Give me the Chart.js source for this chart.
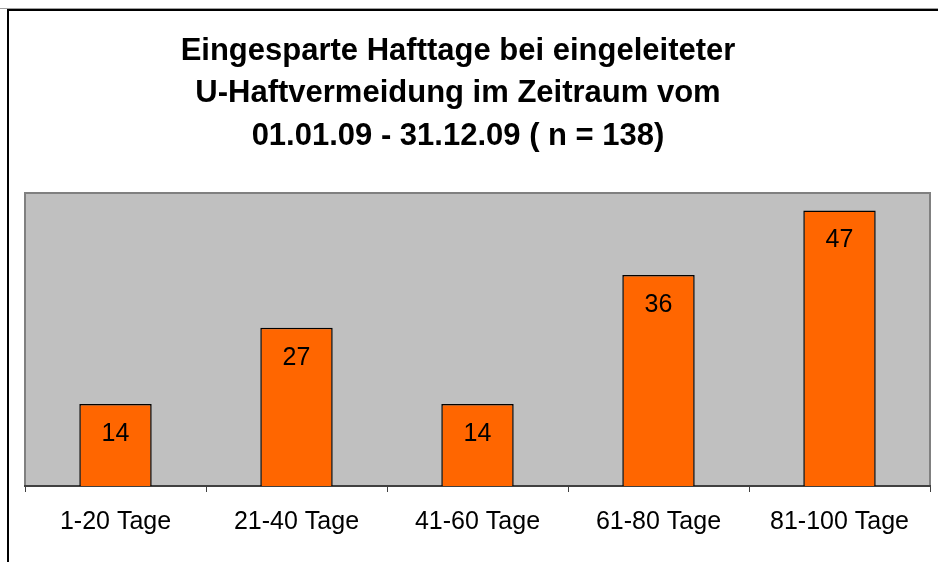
<!DOCTYPE html>
<html>
<head>
<meta charset="utf-8">
<script src="https://cdn.jsdelivr.net/npm/chart.js@4/dist/chart.umd.min.js"></script>
<style>
  html, body { margin: 0; padding: 0; background: #fff; }
  #wrap { width: 938px; height: 562px; }
</style>
</head>
<body>
<div id="wrap"><canvas id="chart"></canvas></div>
<script>
const categories = ['1-20 Tage', '21-40 Tage', '41-60 Tage', '61-80 Tage', '81-100 Tage'];
const values = [14, 27, 14, 36, 47];
const titleLines = ['Eingesparte Hafttage bei eingeleiteter', 'U-Haftvermeidung im Zeitraum vom', '01.01.09 - 31.12.09 ( n = 138)'];

// Rahmen, grauer Plotbereich und Titel
const decor = {
    id: 'decor',
    beforeDraw(chart) {
        const c = chart.ctx;
        const a = chart.chartArea;
        c.save();
        c.fillStyle = '#c0c0c0';
        c.fillRect(a.left, a.top, a.right - a.left, a.bottom - a.top);
        c.strokeStyle = '#808080';
        c.lineWidth = 2;
        c.strokeRect(a.left, a.top, a.right - a.left, a.bottom - a.top);
        // äußerer Rahmen
        c.strokeStyle = '#a0a0a0';
        c.lineWidth = 1;
        c.beginPath(); c.moveTo(0, 8.5); c.lineTo(938, 8.5); c.stroke();
        c.strokeStyle = '#000';
        c.lineWidth = 2;
        c.beginPath(); c.moveTo(938, 10); c.lineTo(8, 10); c.lineTo(8, 562); c.stroke();
        // Titel
        c.fillStyle = '#000';
        c.font = 'bold 31px "Liberation Sans", Arial, sans-serif';
        c.textAlign = 'center';
        c.textBaseline = 'middle';
        titleLines.forEach((t, i) => c.fillText(t, 458, 51 + i * 42.5));
        c.restore();
    },
    afterDatasetsDraw(chart) {
        const c = chart.ctx;
        const meta = chart.getDatasetMeta(0);
        c.save();
        c.fillStyle = '#000';
        c.font = '25px "Liberation Sans", Arial, sans-serif';
        c.textAlign = 'center';
        c.textBaseline = 'middle';
        meta.data.forEach((bar, i) => {
            c.fillText(values[i], bar.x, bar.y + 30);
        });
        c.restore();
    }
};

new Chart(document.getElementById('chart'), {
    type: 'bar',
    data: {
        labels: categories,
        datasets: [{
            data: values,
            backgroundColor: '#ff6600',
            borderColor: '#000',
            borderWidth: 1.5,
            barPercentage: 0.4,
            categoryPercentage: 1
        }]
    },
    options: {
        responsive: true,
        maintainAspectRatio: false,
        animation: false,
        layout: {
            padding: { left: 25, right: 8, top: 193, bottom: 10 }
        },
        scales: {
            x: {
                border: { display: true, color: '#404040', width: 2 },
                grid: {
                    display: true,
                    offset: true,
                    drawOnChartArea: false,
                    tickLength: 6,
                    color: '#404040'
                },
                ticks: {
                    color: '#000',
                    padding: 15,
                    font: { family: '"Liberation Sans", Arial, sans-serif', size: 25 }
                }
            },
            y: {
                display: false,
                min: 0,
                max: 50
            }
        },
        plugins: {
            legend: { display: false },
            title: { display: false },
            tooltip: { enabled: false }
        }
    },
    plugins: [decor]
});
</script>
</body>
</html>
